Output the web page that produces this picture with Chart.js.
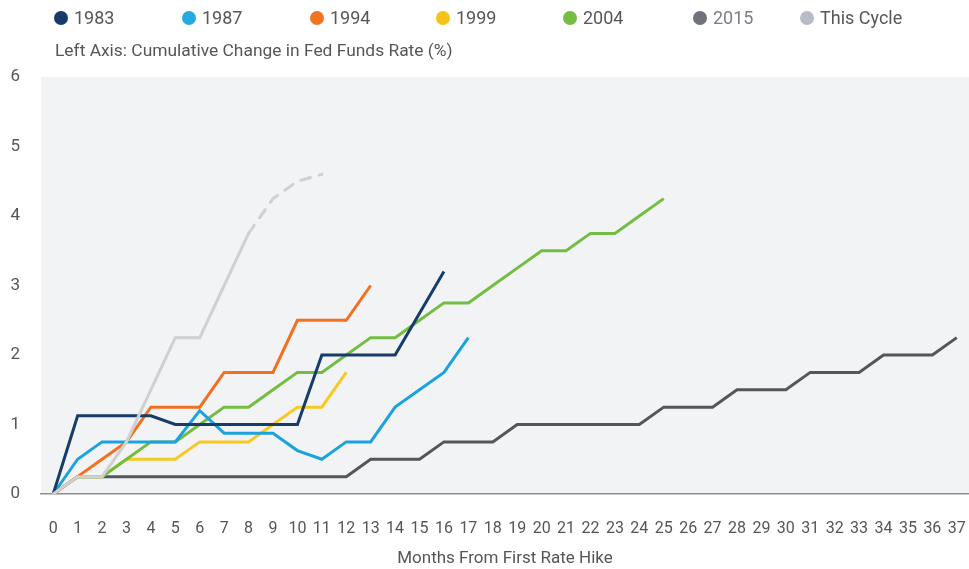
<!DOCTYPE html>
<html>
<head>
<meta charset="utf-8">
<script src="https://cdn.jsdelivr.net/npm/chart.js@4.4.1/dist/chart.umd.min.js"></script>
<style>
  html, body { margin: 0; padding: 0; background: #fff; overflow: hidden; }
  #wrap { width: 969px; height: 569px; position: relative; }
  #wrap canvas { display: block; }
</style>
</head>
<body>
<div id="wrap"><canvas id="hikeChart"></canvas></div>
<script>
// months since first hike
const months = ['0','1','2','3','4','5','6','7','8','9','10','11','12','13','14','15','16','17','18',
    '19','20','21','22','23','24','25','26','27','28','29','30','31','32','33','34','35','36','37'];

// cumulative change in fed funds rate (%)
const cycle1983 = [0, 1.125, 1.125, 1.125, 1.125, 1, 1, 1, 1, 1, 1, 2, 2, 2, 2, 2.6, 3.2];
const cycle1987 = [0, 0.5, 0.75, 0.75, 0.75, 0.75, 1.2, 0.875, 0.875, 0.875, 0.625, 0.5, 0.75, 0.75, 1.25, 1.5, 1.75, 2.25];
const cycle1994 = [0, 0.25, 0.5, 0.75, 1.25, 1.25, 1.25, 1.75, 1.75, 1.75, 2.5, 2.5, 2.5, 3];
const cycle1999 = [0, 0.25, 0.25, 0.5, 0.5, 0.5, 0.75, 0.75, 0.75, 1, 1.25, 1.25, 1.75];
const cycle2004 = [0, 0.25, 0.25, 0.5, 0.75, 0.75, 1, 1.25, 1.25, 1.5, 1.75, 1.75, 2, 2.25, 2.25, 2.5, 2.75, 2.75,
    3, 3.25, 3.5, 3.5, 3.75, 3.75, 4, 4.25];
const cycle2015 = [0, 0.25, 0.25, 0.25, 0.25, 0.25, 0.25, 0.25, 0.25, 0.25, 0.25, 0.25, 0.25, 0.5, 0.5, 0.5,
    0.75, 0.75, 0.75, 1, 1, 1, 1, 1, 1, 1.25, 1.25, 1.25, 1.5, 1.5, 1.5, 1.75, 1.75, 1.75, 2, 2, 2, 2.25];
const thisCycle = [0, 0.25, 0.25, 0.75, 1.5, 2.25, 2.25, 3, 3.75, 4.25, 4.5, 4.6];
const projectedFrom = 8; // dashed after this month

const yTicks = [0, 1, 2, 3, 4, 5, 6];

const FONT = 'Roboto, "Noto Sans", sans-serif';
const TEXT = '#555659';

// grey plot panel + legend + left axis caption
const panelPlugin = {
    id: 'panel',
    beforeDraw(chart) {
        const { ctx, chartArea: a } = chart;
        ctx.save();
        ctx.fillStyle = '#f2f3f5';
        ctx.fillRect(a.left, a.top, a.right - a.left, a.bottom - a.top);
        ctx.restore();
    },
    afterDraw(chart) {
        const ctx = chart.ctx;
        const legendX = [61, 189, 317, 443, 570, 700, 807];
        ctx.save();
        ctx.textBaseline = 'middle';
        ctx.font = '18px ' + FONT;
        chart.data.datasets.forEach((ds, i) => {
            const x = legendX[i];
            ctx.fillStyle = ds.legendColor;
            ctx.beginPath();
            ctx.arc(x, 18, 7, 0, Math.PI * 2);
            ctx.fill();
            ctx.fillStyle = ds.legendText || TEXT;
            ctx.fillText(ds.label, x + 13, 19);
        });
        ctx.font = '17.4px ' + FONT;
        ctx.fillStyle = TEXT;
        ctx.fillText('Left Axis: Cumulative Change in Fed Funds Rate (%)', 55, 52);
        ctx.restore();
    }
};

const ctx = document.getElementById('hikeChart').getContext('2d');

new Chart(ctx, {
    type: 'line',
    data: {
        labels: months,
        datasets: [
            { label: '1983', data: cycle1983, borderColor: '#173c6a', legendColor: '#173c6a', order: 2 },
            { label: '1987', data: cycle1987, borderColor: '#1ca3de', legendColor: '#27a9e1', order: 3 },
            { label: '1994', data: cycle1994, borderColor: '#f37021', legendColor: '#ee7623', order: 4 },
            { label: '1999', data: cycle1999, borderColor: '#f8c823', legendColor: '#f6c218', order: 6 },
            { label: '2004', data: cycle2004, borderColor: '#73bd43', legendColor: '#74bc42', order: 5 },
            { label: '2015', data: cycle2015, borderColor: '#54565b', legendColor: '#6f727a', legendText: '#7b7e86', order: 7 },
            {
                label: 'This Cycle', data: thisCycle, borderColor: '#cfd0d2', legendColor: '#b9bbc6', order: 1,
                borderCapStyle: 'round',
                segment: {
                    borderDash: c => c.p0DataIndex >= projectedFrom ? [10, 9] : undefined
                }
            }
        ]
    },
    options: {
        responsive: true,
        maintainAspectRatio: false,
        animation: false,
        layout: { autoPadding: false, padding: { top: 77, left: 0, right: 0, bottom: 0 } },
        elements: {
            line: { borderWidth: 3, tension: 0, fill: false },
            point: { radius: 0, hoverRadius: 0 }
        },
        plugins: {
            legend: { display: false },
            tooltip: { enabled: false }
        },
        scales: {
            x: {
                offset: true,
                grid: { display: false, drawTicks: false },
                border: { display: true, color: '#8c8d90', width: 1.5 },
                ticks: {
                    autoSkip: false, maxRotation: 0, padding: 25,
                    color: TEXT, font: { family: FONT, size: 16 }
                },
                title: {
                    display: true,
                    text: 'Months From First Rate Hike',
                    color: TEXT,
                    font: { family: FONT, size: 17 },
                    padding: { top: 0, bottom: 0 }
                },
                afterFit: s => { s.height = 75; s.paddingLeft = 0; s.paddingRight = 0; }
            },
            y: {
                min: 0,
                max: 6,
                afterBuildTicks: s => { s.ticks = yTicks.map(v => ({ value: v })); },
                grid: { display: false, drawTicks: false },
                border: { display: false },
                ticks: { padding: 21, color: TEXT, font: { family: FONT, size: 17 } },
                afterFit: s => { s.width = 41; s.paddingTop = 0; s.paddingBottom = 0; }
            }
        }
    },
    plugins: [panelPlugin]
});
</script>
</body>
</html>
